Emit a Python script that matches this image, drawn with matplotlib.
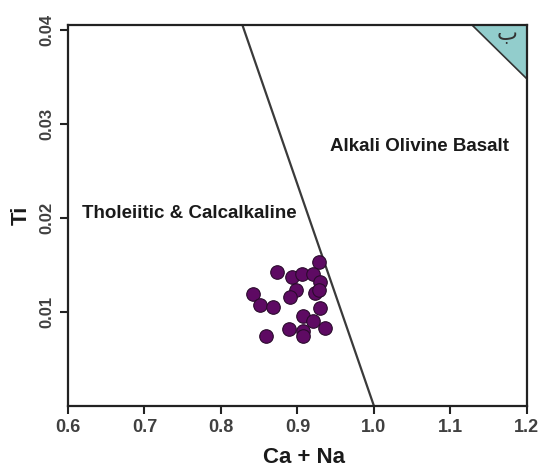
import matplotlib
matplotlib.use("Agg")
import matplotlib.pyplot as plt
from matplotlib.patches import Polygon

# Data
ca_na = [0.9285, 0.8732, 0.8924, 0.9063, 0.9203, 0.9294, 0.8980, 0.9225, 0.9277,
         0.8414, 0.8898, 0.8506, 0.8680, 0.9294, 0.9068, 0.9207, 0.8893, 0.9076,
         0.9359, 0.8588, 0.9076]
ti = [0.01532, 0.01426, 0.01372, 0.01404, 0.01404, 0.01316, 0.01237, 0.01205, 0.01234,
      0.01191, 0.01156, 0.01071, 0.01053, 0.01039, 0.00961, 0.00907, 0.00822, 0.00801,
      0.00833, 0.00741, 0.00748]
boundary_x = [1.0, 0.828]
boundary_y = [0.0, 0.0405]
tri_x = [1.128, 1.2, 1.2]
tri_y = [0.0405, 0.0405, 0.0348]
xticks = [0.6, 0.7, 0.8, 0.9, 1.0, 1.1, 1.2]
xticklabels = ["0.6", "0.7", "0.8", "0.9", "1.0", "1.1", "1.2"]
yticks = [0.01, 0.02, 0.03, 0.04]
yticklabels = ["0.01", "0.02", "0.03", "0.04"]

plt.rcParams['font.family'] = ['Liberation Sans']

fig = plt.figure(figsize=(5.41, 4.68), dpi=100)
ax = fig.add_axes([0.1257, 0.1325, 0.8483, 0.8141])
ax.set_xlim(0.6, 1.2)
ax.set_ylim(0.0, 0.0405)

ax.add_patch(Polygon(list(zip(tri_x, tri_y)), closed=True, facecolor="#92cdcc",
                     edgecolor="#333333", linewidth=1.2, zorder=0.9))
ax.text(1.1735, 0.0389, "\u0628", family=['DejaVu Sans'], fontsize=16, color="#333333",
        ha="center", va="baseline", rotation=0, zorder=1.0)

ax.plot(boundary_x, boundary_y, color="#3a3a3a", linewidth=1.6, zorder=2)

ax.scatter(ca_na, ti, s=95, color="#5e0a63", edgecolor="#2a0a2c", linewidth=0.8, zorder=4)

ax.text(1.060, 0.0276, "Alkali Olivine Basalt", fontsize=13.5, fontweight="bold",
        color="#1a1a1a", ha="center", va="center")
ax.text(0.759, 0.0205, "Tholeiitic & Calcalkaline", fontsize=13.5, fontweight="bold",
        color="#1a1a1a", ha="center", va="center")

ax.set_xticks(xticks)
ax.set_xticklabels(xticklabels)
ax.set_yticks(yticks)
ax.set_yticklabels(yticklabels, rotation=90, va="center")
ax.tick_params(axis="both", direction="out", length=6, width=1.5,
               labelcolor="#404040", color="#222222")
ax.tick_params(axis="x", labelsize=13)
ax.tick_params(axis="y", labelsize=12)
for lbl in ax.get_xticklabels() + ax.get_yticklabels():
    lbl.set_fontweight("bold")

for sp in ax.spines.values():
    sp.set_linewidth(1.6)
    sp.set_color("#222222")

ax.set_xlabel("Ca + Na", fontsize=16, fontweight="bold", color="#1a1a1a")
ax.xaxis.set_label_coords(0.514, -0.108)
ax.set_ylabel("Ti", fontsize=16, fontweight="bold", color="#1a1a1a", labelpad=6)

fig.savefig("out.png", dpi=100)
